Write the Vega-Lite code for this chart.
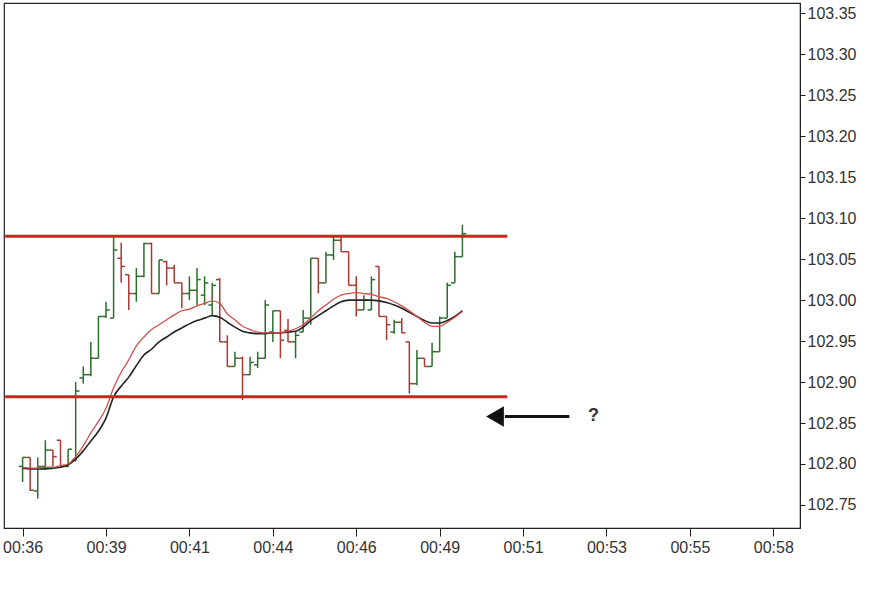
{
  "$schema": "https://vega.github.io/schema/vega-lite/v6.json",
  "width": 796,
  "height": 525,
  "autosize": {"type": "none"},
  "padding": {"left": 4, "top": 3, "right": 85, "bottom": 73},
  "background": "white",
  "config": {
    "view": {"stroke": "#222222", "strokeWidth": 1.2},
    "axis": {"grid": false, "domainColor": "#222222", "tickColor": "#222222", "labelColor": "#333333", "labelFont": "Liberation Sans", "labelFontSize": 16}
  },
  "datasets": {
    "bars": [
      {"i":0,"o":102.797,"h":102.808,"l":102.778,"c":102.808,"ma1":102.796,"ma2":102.795},
      {"i":1,"o":102.808,"h":102.808,"l":102.767,"c":102.768,"ma1":102.795,"ma2":102.794},
      {"i":2,"o":102.767,"h":102.808,"l":102.758,"c":102.797,"ma1":102.795,"ma2":102.794},
      {"i":3,"o":102.797,"h":102.829,"l":102.793,"c":102.817,"ma1":102.796,"ma2":102.794},
      {"i":4,"o":102.817,"h":102.817,"l":102.797,"c":102.809,"ma1":102.796,"ma2":102.795},
      {"i":5,"o":102.829,"h":102.829,"l":102.797,"c":102.797,"ma1":102.798,"ma2":102.796},
      {"i":6,"o":102.797,"h":102.818,"l":102.796,"c":102.818,"ma1":102.800,"ma2":102.799},
      {"i":7,"o":102.805,"h":102.900,"l":102.803,"c":102.889,"ma1":102.809,"ma2":102.806},
      {"i":8,"o":102.905,"h":102.919,"l":102.898,"c":102.909,"ma1":102.822,"ma2":102.816},
      {"i":9,"o":102.909,"h":102.949,"l":102.907,"c":102.929,"ma1":102.838,"ma2":102.828},
      {"i":10,"o":102.929,"h":102.980,"l":102.929,"c":102.980,"ma1":102.852,"ma2":102.840},
      {"i":11,"o":102.980,"h":102.998,"l":102.978,"c":102.988,"ma1":102.868,"ma2":102.856},
      {"i":12,"o":102.978,"h":103.078,"l":102.978,"c":103.061,"ma1":102.893,"ma2":102.882},
      {"i":13,"o":103.051,"h":103.070,"l":103.021,"c":103.041,"ma1":102.912,"ma2":102.895},
      {"i":14,"o":103.031,"h":103.031,"l":102.988,"c":103.008,"ma1":102.927,"ma2":102.906},
      {"i":15,"o":103.008,"h":103.039,"l":102.998,"c":103.029,"ma1":102.944,"ma2":102.920},
      {"i":16,"o":103.029,"h":103.070,"l":103.028,"c":103.069,"ma1":102.955,"ma2":102.933},
      {"i":17,"o":103.069,"h":103.070,"l":103.008,"c":103.008,"ma1":102.964,"ma2":102.940},
      {"i":18,"o":103.008,"h":103.049,"l":103.008,"c":103.049,"ma1":102.970,"ma2":102.949},
      {"i":19,"o":103.047,"h":103.048,"l":103.018,"c":103.039,"ma1":102.976,"ma2":102.955},
      {"i":20,"o":103.039,"h":103.043,"l":103.021,"c":103.021,"ma1":102.982,"ma2":102.961},
      {"i":21,"o":103.021,"h":103.021,"l":102.990,"c":103.008,"ma1":102.987,"ma2":102.966},
      {"i":22,"o":103.008,"h":103.029,"l":103.000,"c":103.012,"ma1":102.989,"ma2":102.971},
      {"i":23,"o":103.012,"h":103.039,"l":102.994,"c":103.025,"ma1":102.993,"ma2":102.975},
      {"i":24,"o":103.006,"h":103.029,"l":102.994,"c":103.021,"ma1":102.996,"ma2":102.978},
      {"i":25,"o":102.994,"h":103.021,"l":102.982,"c":103.018,"ma1":102.999,"ma2":102.981},
      {"i":26,"o":103.025,"h":103.027,"l":102.949,"c":102.949,"ma1":102.996,"ma2":102.979},
      {"i":27,"o":102.949,"h":102.957,"l":102.919,"c":102.919,"ma1":102.983,"ma2":102.973},
      {"i":28,"o":102.919,"h":102.937,"l":102.919,"c":102.929,"ma1":102.976,"ma2":102.967},
      {"i":29,"o":102.929,"h":102.931,"l":102.878,"c":102.909,"ma1":102.968,"ma2":102.962},
      {"i":30,"o":102.909,"h":102.931,"l":102.909,"c":102.924,"ma1":102.964,"ma2":102.960},
      {"i":31,"o":102.921,"h":102.937,"l":102.917,"c":102.929,"ma1":102.961,"ma2":102.959},
      {"i":32,"o":102.929,"h":103.000,"l":102.929,"c":102.994,"ma1":102.960,"ma2":102.959},
      {"i":33,"o":102.961,"h":102.987,"l":102.949,"c":102.987,"ma1":102.960,"ma2":102.960},
      {"i":34,"o":102.987,"h":102.987,"l":102.929,"c":102.951,"ma1":102.960,"ma2":102.960},
      {"i":35,"o":102.963,"h":102.977,"l":102.949,"c":102.949,"ma1":102.962,"ma2":102.961},
      {"i":36,"o":102.949,"h":102.961,"l":102.929,"c":102.957,"ma1":102.965,"ma2":102.962},
      {"i":37,"o":102.961,"h":102.988,"l":102.961,"c":102.978,"ma1":102.970,"ma2":102.967},
      {"i":38,"o":102.978,"h":103.051,"l":102.970,"c":103.051,"ma1":102.978,"ma2":102.975},
      {"i":39,"o":103.051,"h":103.051,"l":103.008,"c":103.021,"ma1":102.987,"ma2":102.981},
      {"i":40,"o":103.021,"h":103.059,"l":103.021,"c":103.055,"ma1":102.994,"ma2":102.987},
      {"i":41,"o":103.055,"h":103.077,"l":103.049,"c":103.073,"ma1":103.001,"ma2":102.993},
      {"i":42,"o":103.073,"h":103.077,"l":103.059,"c":103.059,"ma1":103.006,"ma2":102.998},
      {"i":43,"o":103.059,"h":103.059,"l":103.018,"c":103.018,"ma1":103.008,"ma2":103.000},
      {"i":44,"o":103.018,"h":103.029,"l":102.980,"c":102.988,"ma1":103.009,"ma2":103.000},
      {"i":45,"o":102.988,"h":103.006,"l":102.988,"c":103.000,"ma1":103.008,"ma2":103.000},
      {"i":46,"o":102.988,"h":103.029,"l":102.988,"c":103.025,"ma1":103.007,"ma2":103.000},
      {"i":47,"o":103.041,"h":103.041,"l":102.980,"c":102.980,"ma1":103.004,"ma2":102.999},
      {"i":48,"o":102.980,"h":102.980,"l":102.951,"c":102.970,"ma1":103.002,"ma2":102.997},
      {"i":49,"o":102.961,"h":102.976,"l":102.959,"c":102.973,"ma1":102.998,"ma2":102.994},
      {"i":50,"o":102.973,"h":102.978,"l":102.960,"c":102.960,"ma1":102.993,"ma2":102.990},
      {"i":51,"o":102.949,"h":102.949,"l":102.886,"c":102.898,"ma1":102.987,"ma2":102.985},
      {"i":52,"o":102.898,"h":102.939,"l":102.896,"c":102.929,"ma1":102.980,"ma2":102.980},
      {"i":53,"o":102.929,"h":102.929,"l":102.919,"c":102.919,"ma1":102.973,"ma2":102.975},
      {"i":54,"o":102.919,"h":102.948,"l":102.919,"c":102.937,"ma1":102.968,"ma2":102.972},
      {"i":55,"o":102.937,"h":102.980,"l":102.937,"c":102.978,"ma1":102.968,"ma2":102.972},
      {"i":56,"o":102.978,"h":103.021,"l":102.978,"c":103.018,"ma1":102.973,"ma2":102.975},
      {"i":57,"o":103.021,"h":103.059,"l":103.021,"c":103.053,"ma1":102.979,"ma2":102.980},
      {"i":58,"o":103.053,"h":103.092,"l":103.053,"c":103.081,"ma1":102.986,"ma2":102.987}
    ],
    "levels": [
      {"y": 103.078, "xa": -2.3, "xb": 63.9},
      {"y": 102.882, "xa": -2.3, "xb": 63.9}
    ],
    "arrow": [
      {"xa": 63.6, "xb": 72.1, "head": 62.3, "q": 75.3, "y": 102.858, "label": "?"}
    ]
  },
  "layer": [
    {
      "data": {"name": "bars"},
      "mark": {"type": "rule", "strokeWidth": 1.5},
      "encoding": {
        "x": {"field": "i", "type": "quantitative", "title": null,
              "scale": {"domain": [-2.453, 102.52], "nice": false, "zero": false},
              "axis": {"values": [0, 11, 22, 33, 44, 55, 66, 77, 88, 99], "tickSize": 8, "labelPadding": 3,
                       "labelExpr": "['00:36','00:39','00:41','00:44','00:46','00:49','00:51','00:53','00:55','00:58'][round(datum.value / 11)]"}},
        "y": {"field": "l", "type": "quantitative", "title": null,
              "scale": {"domain": [102.7219, 103.3625], "nice": false, "zero": false},
              "axis": {"orient": "right", "values": [102.75, 102.8, 102.85, 102.9, 102.95, 103, 103.05, 103.1, 103.15, 103.2, 103.25, 103.3, 103.35],
                       "format": ".2f", "tickSize": 5, "labelPadding": 2}},
        "y2": {"field": "h"},
        "color": {"condition": {"test": "datum.c >= datum.o", "value": "#2b6e2b"}, "value": "#a83a32"}
      }
    },
    {
      "data": {"name": "bars"},
      "mark": {"type": "rule", "strokeWidth": 1.5, "xOffset": -3.8},
      "encoding": {
        "x": {"field": "i", "type": "quantitative", "title": null, "scale": {"domain": [-2.453, 102.52], "nice": false, "zero": false}},
        "x2": {"field": "i"},
        "y": {"field": "o", "type": "quantitative", "title": null, "scale": {"domain": [102.7219, 103.3625], "nice": false, "zero": false}},
        "color": {"condition": {"test": "datum.c >= datum.o", "value": "#2b6e2b"}, "value": "#a83a32"}
      }
    },
    {
      "data": {"name": "bars"},
      "mark": {"type": "rule", "strokeWidth": 1.5, "x2Offset": 3.8},
      "encoding": {
        "x": {"field": "i", "type": "quantitative", "title": null, "scale": {"domain": [-2.453, 102.52], "nice": false, "zero": false}},
        "x2": {"field": "i"},
        "y": {"field": "c", "type": "quantitative", "title": null, "scale": {"domain": [102.7219, 103.3625], "nice": false, "zero": false}},
        "color": {"condition": {"test": "datum.c >= datum.o", "value": "#2b6e2b"}, "value": "#a83a32"}
      }
    },
    {
      "data": {"name": "bars"},
      "mark": {"type": "line", "color": "#222222", "strokeWidth": 1.6, "interpolate": "monotone"},
      "encoding": {
        "x": {"field": "i", "type": "quantitative", "title": null, "scale": {"domain": [-2.453, 102.52], "nice": false, "zero": false}},
        "y": {"field": "ma2", "type": "quantitative", "title": null, "scale": {"domain": [102.7219, 103.3625], "nice": false, "zero": false}}
      }
    },
    {
      "data": {"name": "bars"},
      "mark": {"type": "line", "color": "#d2504a", "strokeWidth": 1.3, "interpolate": "monotone"},
      "encoding": {
        "x": {"field": "i", "type": "quantitative", "title": null, "scale": {"domain": [-2.453, 102.52], "nice": false, "zero": false}},
        "y": {"field": "ma1", "type": "quantitative", "title": null, "scale": {"domain": [102.7219, 103.3625], "nice": false, "zero": false}}
      }
    },
    {
      "data": {"name": "levels"},
      "mark": {"type": "rule", "color": "#e01c1c", "strokeWidth": 3},
      "encoding": {
        "x": {"field": "xa", "type": "quantitative", "title": null, "scale": {"domain": [-2.453, 102.52], "nice": false, "zero": false}},
        "x2": {"field": "xb"},
        "y": {"field": "y", "type": "quantitative", "title": null, "scale": {"domain": [102.7219, 103.3625], "nice": false, "zero": false}}
      }
    },
    {
      "data": {"name": "arrow"},
      "mark": {"type": "rule", "color": "#111111", "strokeWidth": 3},
      "encoding": {
        "x": {"field": "xa", "type": "quantitative", "title": null, "scale": {"domain": [-2.453, 102.52], "nice": false, "zero": false}},
        "x2": {"field": "xb"},
        "y": {"field": "y", "type": "quantitative", "title": null, "scale": {"domain": [102.7219, 103.3625], "nice": false, "zero": false}}
      }
    },
    {
      "data": {"name": "arrow"},
      "mark": {"type": "point", "shape": "triangle-left", "filled": true, "color": "#111111", "size": 420, "opacity": 1},
      "encoding": {
        "x": {"field": "head", "type": "quantitative", "title": null, "scale": {"domain": [-2.453, 102.52], "nice": false, "zero": false}},
        "y": {"field": "y", "type": "quantitative", "title": null, "scale": {"domain": [102.7219, 103.3625], "nice": false, "zero": false}}
      }
    },
    {
      "data": {"name": "arrow"},
      "mark": {"type": "text", "font": "Liberation Sans", "fontSize": 18, "fontWeight": "bold", "color": "#333333", "align": "center", "baseline": "middle"},
      "encoding": {
        "x": {"field": "q", "type": "quantitative", "title": null, "scale": {"domain": [-2.453, 102.52], "nice": false, "zero": false}},
        "y": {"field": "y", "type": "quantitative", "title": null, "scale": {"domain": [102.7219, 103.3625], "nice": false, "zero": false}},
        "text": {"field": "label"}
      }
    }
  ]
}
